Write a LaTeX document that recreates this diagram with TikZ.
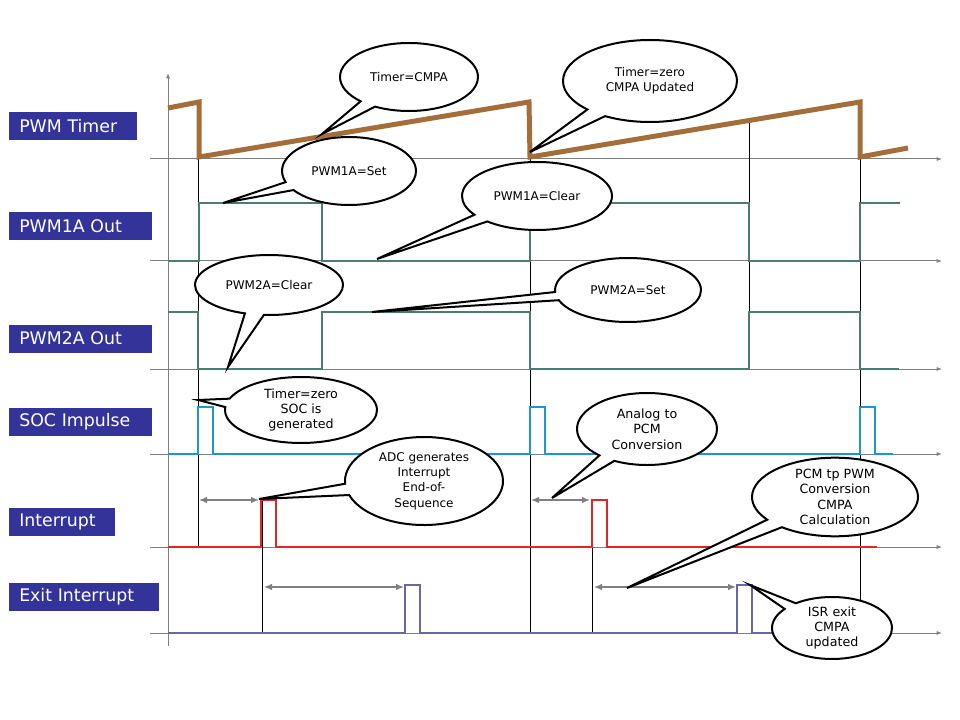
\documentclass[tikz,border=0pt]{standalone}
\usepackage{fontspec}
\setmainfont{DejaVu Sans}
\usetikzlibrary{shapes,shapes.callouts,arrows.meta}
\definecolor{lblblue}{RGB}{51,51,153}
\definecolor{rampbrown}{RGB}{163,110,58}
\definecolor{pwmteal}{RGB}{76,124,112}
\definecolor{socblue}{RGB}{30,150,210}
\definecolor{irqred}{RGB}{220,40,40}
\definecolor{exitviolet}{RGB}{104,104,160}

\begin{document}
\begin{tikzpicture}[x=0.75pt,y=-0.75pt,
  lbl/.style={fill=lblblue,text=white,font=\fontsize{13}{15}\selectfont,anchor=west,
    inner xsep=7.5pt,inner ysep=2pt,minimum height=21pt,text width=#1,align=left},
  bub/.style n args={3}{ellipse callout,draw,fill=white,line width=1.5pt,
    minimum width=#1*1.5pt,minimum height=#2*1.5pt,inner sep=0pt,align=center,
    font=\fontsize{#3}{11.5}\selectfont},
  base/.style={gray,line width=0.75pt,-{Latex[length=4pt,width=3pt]}},
  dly/.style={gray,line width=1pt,{Latex[length=6pt,width=5pt]}-{Latex[length=6pt,width=5pt]}},
  sig/.style={line width=2pt}]

  \useasboundingbox (0,0) rectangle (960,720);

  % axes
  \draw[base] (168,646) -- (168,73);
  \foreach \y in {159,261,369,454,547,633}
    \draw[base] (150,\y) -- (942,\y);

  % time markers
  \foreach \x/\a/\b in {198/159/547,262/500/633,530/159/633,592/500/633,749/123/369,860/102/633}
    \draw[line width=0.75pt] (\x,\a) -- (\x,\b);

  % signals
  \draw[rampbrown,line width=3.75pt] (168,108) -- (199,102) -- (199,157) -- (529,102)
    -- (530,157) -- (860,102) -- (860,157) -- (908,148);
  \draw[sig,pwmteal] (168,261) -- (199,261) -- (199,203) -- (322,203) -- (322,261)
    -- (530,261) -- (530,203) -- (749,203) -- (749,261) -- (860,261) -- (860,203) -- (900,203);
  \draw[sig,pwmteal] (168,312) -- (198,312) -- (198,369) -- (322,369) -- (322,312)
    -- (530,312) -- (530,369) -- (749,369) -- (749,312) -- (860,312) -- (860,369) -- (899,369);
  \draw[sig,socblue] (168,454) -- (198,454) -- (198,407) -- (213,407) -- (213,454)
    -- (530,454) -- (530,407) -- (545,407) -- (545,454) -- (860,454) -- (860,407)
    -- (875,407) -- (875,454) -- (893,454);
  \draw[sig,irqred] (168,547) -- (261,547) -- (261,500) -- (276,500) -- (276,547)
    -- (592,547) -- (592,500) -- (607,500) -- (607,547) -- (877,547);
  \draw[sig,exitviolet] (168,633) -- (405,633) -- (405,585) -- (420,585) -- (420,633)
    -- (737,633) -- (737,585) -- (752,585) -- (752,633) -- (880,633);

  % delays
  \coordinate (d1a) at (199,500);  \coordinate (d1b) at (259,500);
  \coordinate (d2a) at (264,587);  \coordinate (d2b) at (404,587);
  \coordinate (d3a) at (531,500);  \coordinate (d3b) at (590,500);
  \coordinate (d4a) at (594,587);  \coordinate (d4b) at (736,587);
  \draw[dly] (d1a) -- (d1b);
  \draw[dly] (d2a) -- (d2b);
  \draw[dly] (d3a) -- (d3b);
  \draw[dly] (d4a) -- (d4b);

  % signal names
  \node[lbl=81pt]   (timer) at (9,126)   {PWM Timer};
  \node[lbl=92pt]   (out1)  at (9,226.5) {PWM1A Out};
  \node[lbl=92pt]   (out2)  at (9,338.5) {PWM2A Out};
  \node[lbl=92pt]   (soc)   at (9,421.5) {SOC Impulse};
  \node[lbl=64pt]   (irq)   at (9,522)   {Interrupt};
  \node[lbl=97.5pt] (exit)  at (9,596.5) {Exit Interrupt};

  % callouts
  \coordinate (tcmpa) at (322,134);
  \coordinate (tzero) at (530,152);
  \coordinate (tset1) at (223,203);
  \coordinate (tclr1) at (377,259);
  \coordinate (tclr2) at (228,367);
  \coordinate (tset2) at (372,312);
  \coordinate (tsoc)  at (198,400);
  \coordinate (tadc)  at (259,499);
  \coordinate (tconv) at (552,498);
  \coordinate (tcalc) at (627,588);
  \coordinate (tisr)  at (750,585);

  \node[bub={69}{34}{9},callout absolute pointer=(tcmpa)] (cmpa) at (409,77) {Timer=CMPA};
  \node[bub={87}{41}{9},callout absolute pointer=(tzero)] (zero) at (650,81) {Timer=zero\\CMPA Updated};
  \node[bub={67}{34}{9},callout absolute pointer=(tset1)] (set1) at (349,171) {PWM1A=Set};
  \node[bub={75}{34}{9},callout absolute pointer=(tclr1)] (clr1) at (537,196) {PWM1A=Clear};
  \node[bub={74}{30}{9},callout absolute pointer=(tclr2)] (clr2) at (269,285) {PWM2A=Clear};
  \node[bub={73}{32}{9},callout absolute pointer=(tset2)] (set2) at (628,290) {PWM2A=Set};
  \node[bub={76}{33}{9.5},callout absolute pointer=(tsoc)] (socgen) at (301,410) {Timer=zero\\SOC is\\generated};
  \node[bub={79}{44}{9},callout absolute pointer=(tadc)] (adc) at (424,481) {ADC generates\\Interrupt\\End-of-\\Sequence};
  \node[bub={70}{36}{9.5},callout absolute pointer=(tconv)] (conv) at (647,429) {Analog to\\PCM\\Conversion};
  \node[bub={83}{36}{9.5},callout absolute pointer=(tcalc)] (calc) at (835,497) {PCM tp PWM\\Conversion\\CMPA\\Calculation};
  \node[bub={60}{31}{9.5},callout absolute pointer=(tisr)] (isr) at (832,628) {ISR exit\\CMPA\\updated};
\end{tikzpicture}
\end{document}
